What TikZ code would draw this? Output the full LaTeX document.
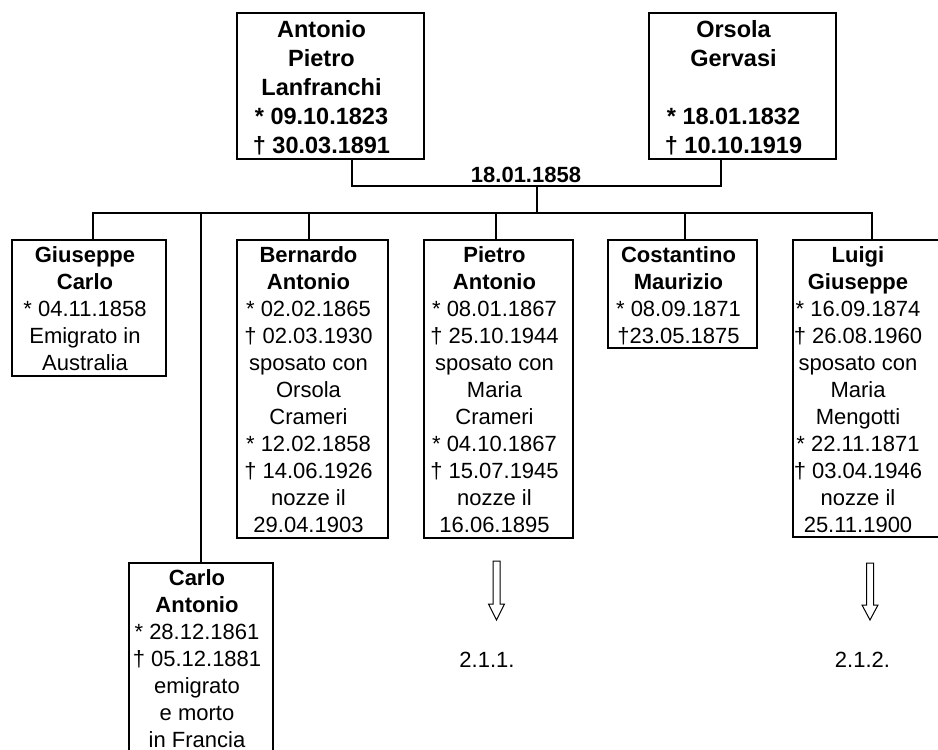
\documentclass[tikz,border=0pt]{standalone}
\usepackage{fontspec}
\setmainfont{Liberation Sans}
\usetikzlibrary{calc}

% card body: [right padding] width, height, top gap, lines (text set left of centre by half the padding)
\newcommand\famcard[5][8pt]{\parbox[t][#3][t]{\dimexpr#2-#1\relax}{\centering\vspace*{#4}\strut#5\par}\kern#1}

\begin{document}
\begin{tikzpicture}[x=1pt,y=-1pt,
  person/.style={draw, line width=1.6pt, inner sep=0pt, outer sep=0pt, anchor=north west},
  elder/.style={person, font=\fontsize{23.5}{29}\selectfont\bfseries},
  kid/.style={person, font=\fontsize{22}{27}\selectfont},
  link/.style={line width=1.6pt},
  tag/.style={font=\fontsize{22}{27}\selectfont, inner sep=0pt},
  hollow/.style={line width=1pt, line join=miter}]
\useasboundingbox (0,0) rectangle (938,750);
\clip (0,0) rectangle (938,750);

% parents
\node[elder] (anto) at (237,13) {\famcard[18pt]{187pt}{146pt}{3.7pt}{Antonio\\Pietro\\Lanfranchi\\{*} 09.10.1823\\† 30.03.1891}};
\node[elder] (orso) at (649,13) {\famcard[18pt]{187pt}{146pt}{3.7pt}{Orsola\\Gervasi\\\mbox{}\\{*} 18.01.1832\\† 10.10.1919}};
\node[tag, font=\fontsize{22}{27}\selectfont\bfseries] (wed) at (526,175) {18.01.1858};

% children
\node[kid] (gius) at (12,240) {\famcard{154pt}{136pt}{3.1pt}{\textbf{Giuseppe}\\\textbf{Carlo}\\{*} 04.11.1858\\Emigrato in\\Australia}};
\node[kid] (carlo) at (129,563) {\famcard{144pt}{200pt}{3.1pt}{\textbf{Carlo}\\\textbf{Antonio}\\{*} 28.12.1861\\† 05.12.1881\\emigrato\\e morto\\in Francia}};
\node[kid] (bern) at (237,240) {\famcard{151pt}{298pt}{3.1pt}{\textbf{Bernardo}\\\textbf{Antonio}\\{*} 02.02.1865\\† 02.03.1930\\sposato con\\Orsola\\Crameri\\{*} 12.02.1858\\† 14.06.1926\\nozze il\\29.04.1903}};
\node[kid] (piet) at (424,240) {\famcard{149pt}{298pt}{3.1pt}{\textbf{Pietro}\\\textbf{Antonio}\\{*} 08.01.1867\\† 25.10.1944\\sposato con\\Maria\\Crameri\\{*} 04.10.1867\\† 15.07.1945\\nozze il\\16.06.1895}};
\node[kid] (cost) at (608,240) {\famcard{149pt}{108pt}{3.1pt}{\textbf{Costantino}\\\textbf{Maurizio}\\{*} 08.09.1871\\†23.05.1875}};
\node[kid] (luigi) at (793,240) {\famcard[20pt]{150pt}{297pt}{3.1pt}{\textbf{Luigi}\\\textbf{Giuseppe}\\{*} 16.09.1874\\† 26.08.1960\\sposato con\\Maria\\Mengotti\\{*} 22.11.1871\\† 03.04.1946\\nozze il\\25.11.1900}};

% marriage bar and family bus
\coordinate (mA) at (352,186);
\coordinate (mO) at (721,186);
\coordinate (mC) at (537,186);
\coordinate (bC) at (537,213);
\coordinate (b1) at (93,213);
\coordinate (b2) at (201,213);
\coordinate (b3) at (309,213);
\coordinate (b4) at (496,213);
\coordinate (b5) at (685,213);
\coordinate (b6) at (872,213);

\draw[link] (anto.south -| mA) -- (mA) -- (mO) -- (orso.south -| mO);
\draw[link] (mC) -- (bC);
\draw[link] (gius.north -| b1) -- (b1) -- (b6) -- (luigi.north -| b6);
\draw[link] (b2) -- (carlo.north -| b2);
\draw[link] (b3) -- (bern.north -| b3);
\draw[link] (b4) -- (piet.north -| b4);
\draw[link] (b5) -- (cost.north -| b5);

% continuation references
\node[tag] (n211) at (487,660) {2.1.1.};
\node[tag] (n212) at (862.5,660) {2.1.2.};
\coordinate (a1) at (496.5,561);
\coordinate (a2) at (870,563);
\draw[hollow] (a1) ++(-3.5,0) -- ++(0,43) -- ++(-4.5,0) -- ++(8,16) -- ++(8,-16) -- ++(-4.5,0) -- ++(0,-43) -- cycle;
\draw[hollow] (a2) ++(-3.5,0) -- ++(0,42) -- ++(-4.5,0) -- ++(8,15) -- ++(8,-15) -- ++(-4.5,0) -- ++(0,-42) -- cycle;
\end{tikzpicture}
\end{document}
